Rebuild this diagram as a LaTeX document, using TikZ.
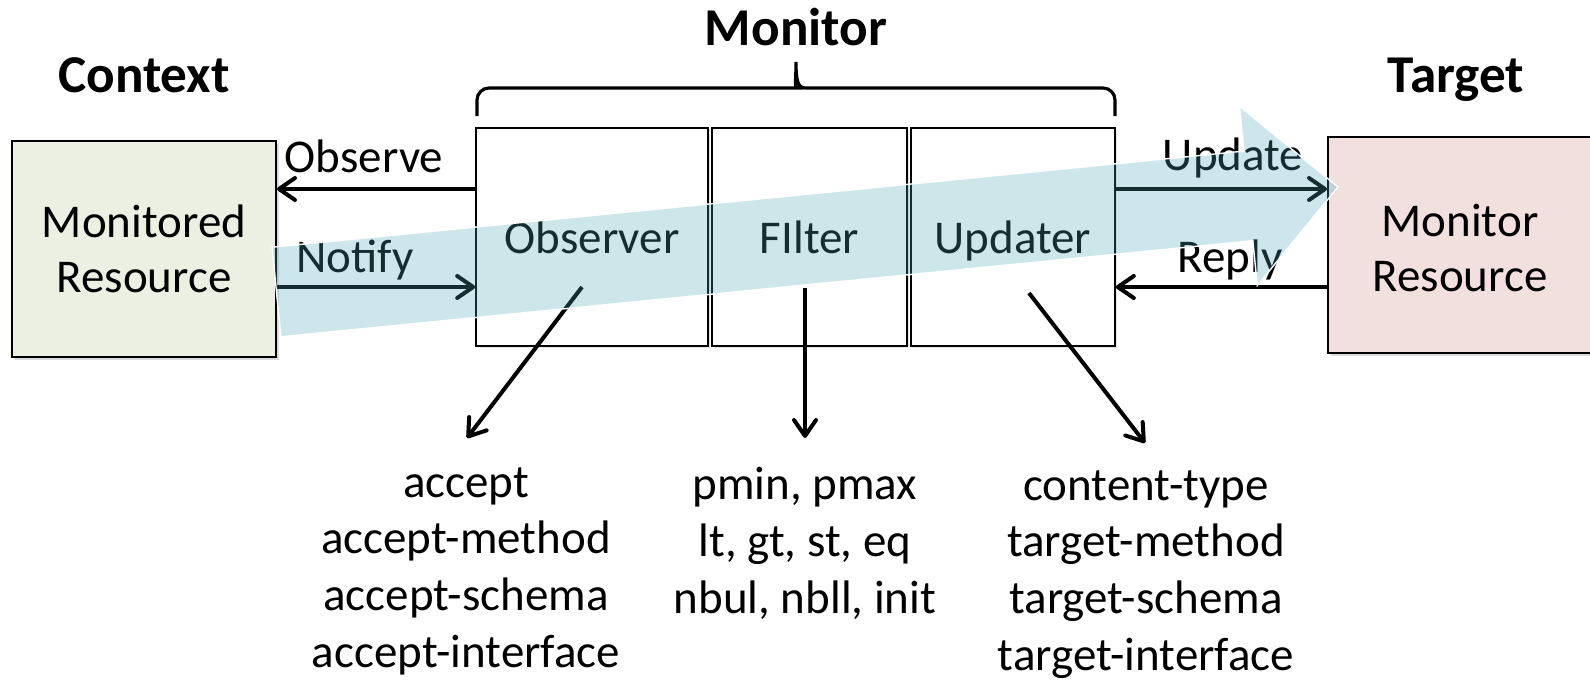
\documentclass[tikz,border=0pt]{standalone}
\usepackage{fontspec}
\setmainfont{Carlito}
\usetikzlibrary{arrows.meta,shadows}
\definecolor{ctxgreen}{RGB}{235,240,227}
\definecolor{tgtpink}{RGB}{242,224,222}
\definecolor{flowblue}{RGB}{73,164,182}

\begin{document}
\begin{tikzpicture}[x=0.5pt,y=-0.5pt,
  big/.style={font=\fontsize{23.5pt}{27.5pt}\selectfont},
  head/.style={font=\fontsize{26.6pt}{31pt}\selectfont\bfseries,anchor=base,inner sep=0pt},
  res/.style={rectangle,draw,line width=1pt,minimum height=108pt,drop shadow={opacity=0.3,shadow xshift=1.5pt,shadow yshift=-1.5pt}},
  part/.style={rectangle,draw,fill=white,line width=0.8pt,minimum height=109pt,text depth=0pt,big,drop shadow={opacity=0.2,shadow xshift=1pt,shadow yshift=-1pt}},
  lbl/.style={big,anchor=base,inner sep=0pt},
  list/.style={font=\fontsize{23.5pt}{28.4pt}\selectfont,align=center,anchor=north,inner sep=0pt},
  flow/.style={-{Straight Barb[length=8pt,width=11pt,round]},line width=2pt}]
\useasboundingbox (0,0) rectangle (1590,680);

\node [head] (ctx) at (144,92) {Context};
\node [head] (mon) at (796,45) {Monitor};
\node [head] (tgt) at (1456,92) {Target};

\node [res,fill=ctxgreen,minimum width=132pt,big,align=center] (mres) at (144,248.5) {Monitored\\Resource};
\node [res,fill=tgtpink,minimum width=146pt] (tres) at (1474,245) {};
\node [big,align=center] (trestxt) at (1460,248) {Monitor\\Resource};

\node [part,minimum width=116pt] (obs) at (592,237) {Observer};
\node [part,minimum width=97.5pt] (filt) at (809.5,237) {FIlter};
\node [part,minimum width=102pt] (upd) at (1013,237) {Updater};

\draw [line width=1.6pt,rounded corners=6pt] (477,116) -- (477,88) -- (786,88) [sharp corners] .. controls (794,88) and (796,82) .. (796,62) .. controls (796,82) and (798,88) .. (806,88) [rounded corners=6pt] -- (1115,88) -- (1115,116);

\node [lbl] (obsl) at (364,172) {Observe};
\node [lbl] (notl) at (355,272) {Notify};
\node [lbl] (updl) at (1233,170) {Update};
\node [lbl] (repl) at (1230,272) {Reply};

\draw [flow] (obs.west |- 0,189) -- (mres.east |- 0,189);
\draw [flow] (mres.east |- 0,287) -- (obs.west |- 0,287);
\draw [flow] (upd.east |- 0,189) -- (tres.west |- 0,189);
\draw [flow] (tres.west |- 0,287) -- (upd.east |- 0,287);

\node [list] (lobs) at (466,467) {accept\\accept-method\\accept-schema\\accept-interface};
\node [list] (lfilt) at (805,467) {pmin, pmax\\lt, gt, st, eq\\nbul, nbll, init};
\node [list] (lupd) at (1146,470) {content-type\\target-method\\target-schema\\target-interface};

\coordinate (obsout) at (582,287);
\coordinate (obsin) at (467,438);
\coordinate (filtout) at (805,288);
\coordinate (filtin) at (805,438);
\coordinate (updout) at (1029,293);
\coordinate (updin) at (1145,443);
\draw [flow] (obsout) -- (obsin);
\draw [flow] (filtout) -- (filtin);
\draw [flow] (updout) -- (updin);

\filldraw [fill=flowblue,fill opacity=0.275,draw=white,line width=0.7pt] (272.1,247.2) -- (1244,151.1) -- (1239.5,106.3) -- (1338,187) -- (1257.3,285.5) -- (1252.8,240.7) -- (280.9,336.8) -- cycle;
\end{tikzpicture}
\end{document}
